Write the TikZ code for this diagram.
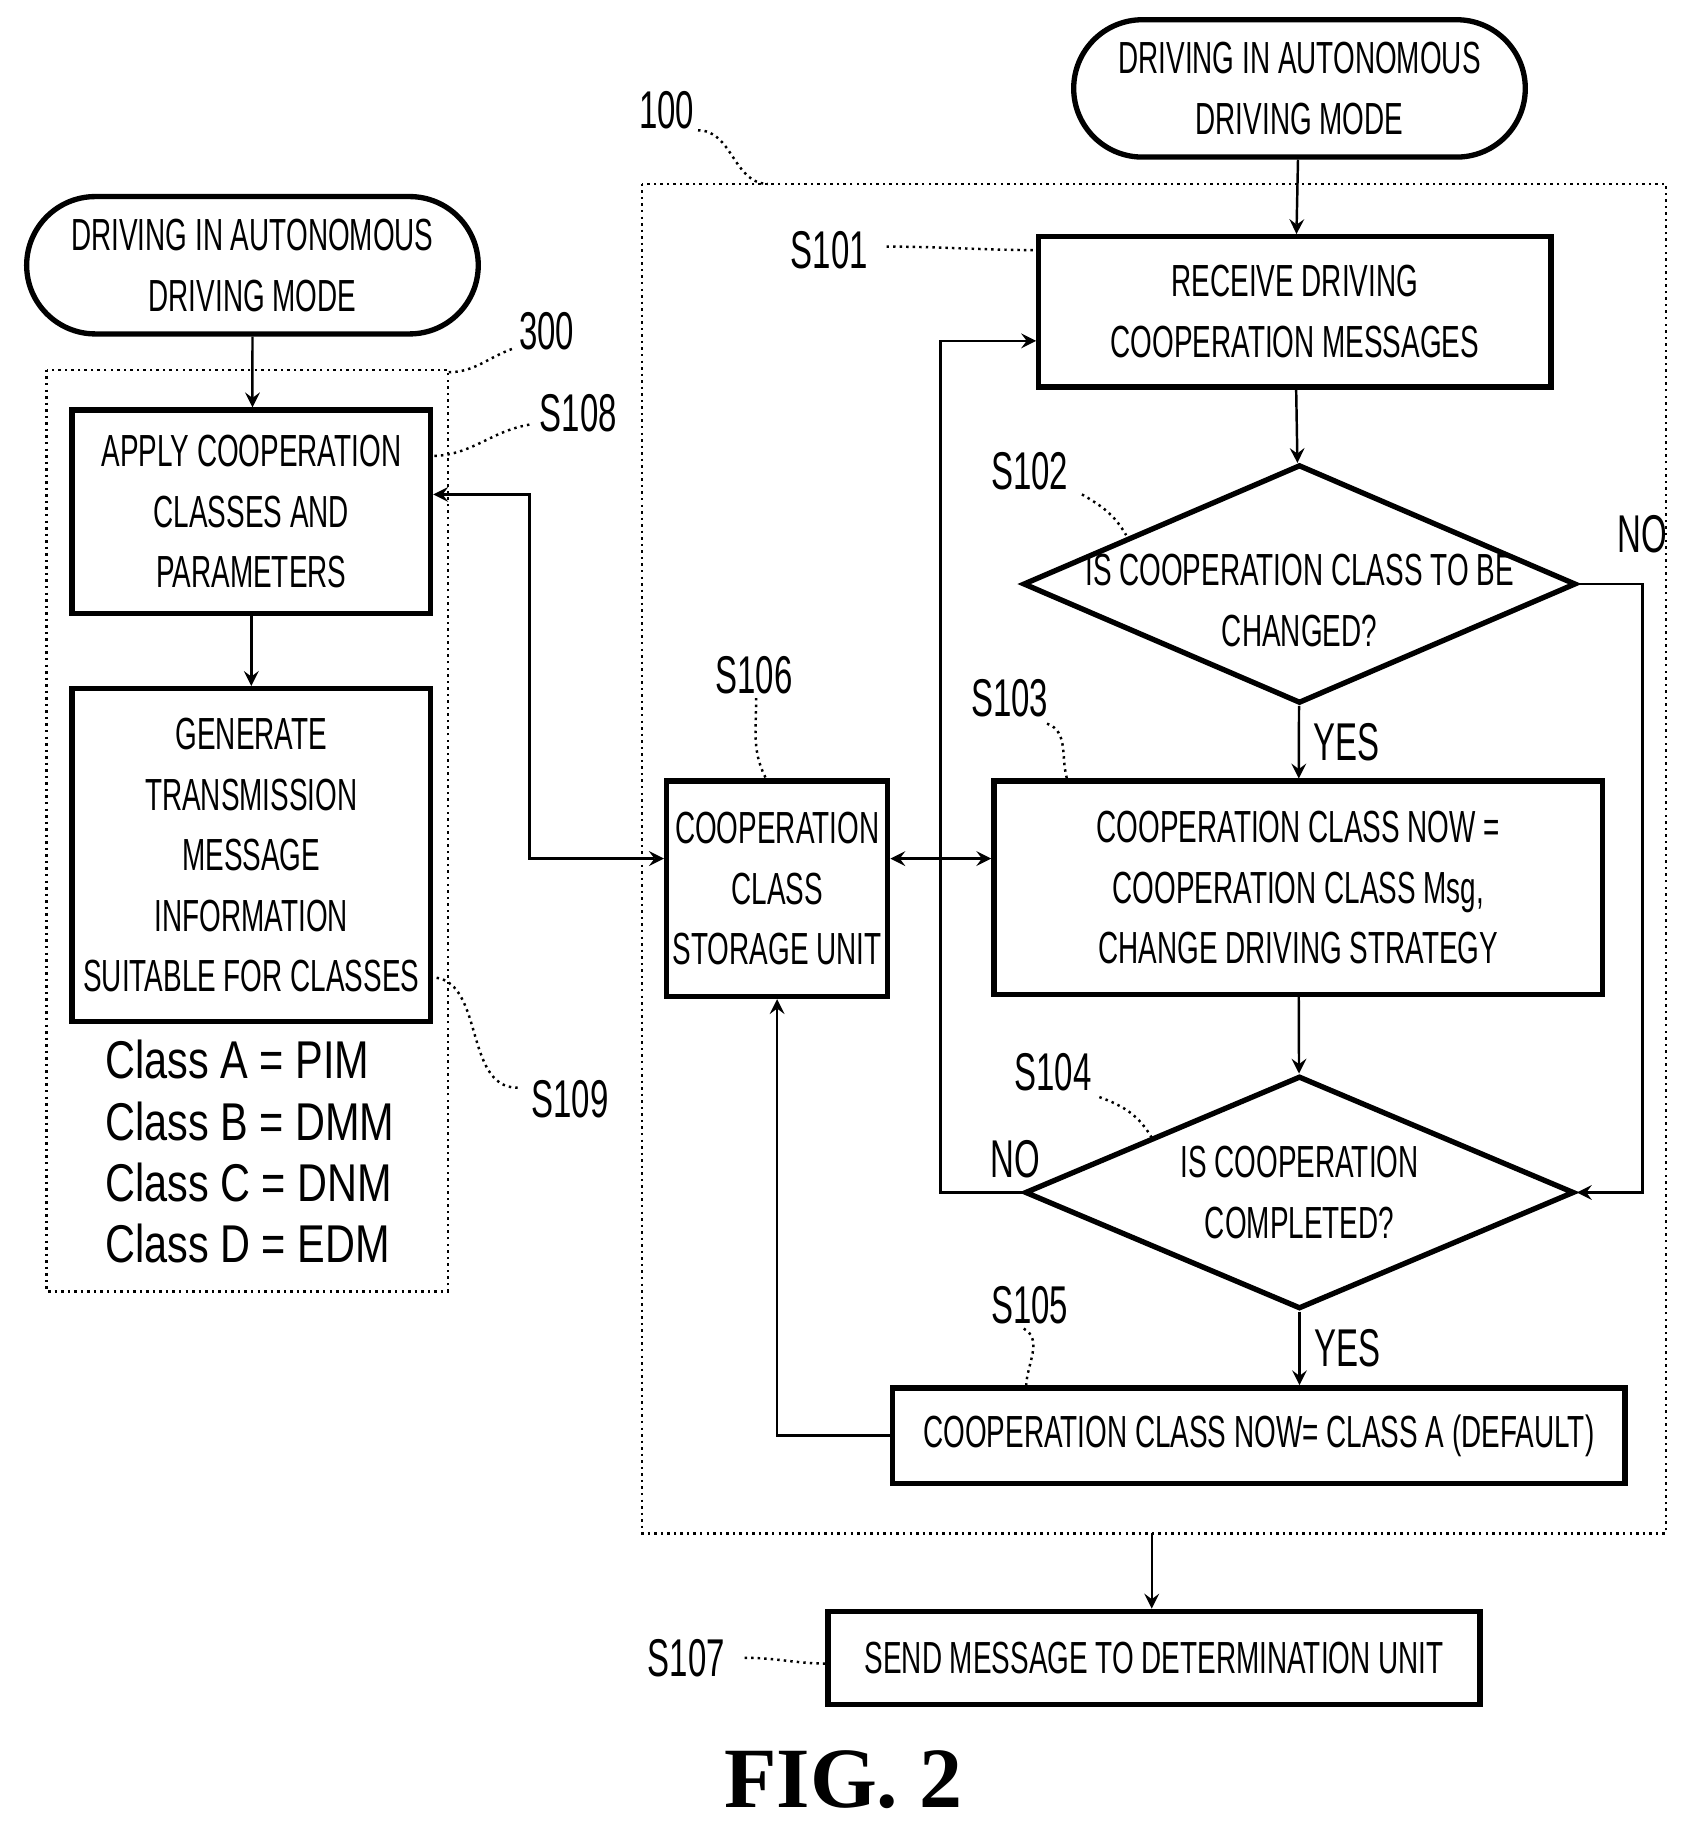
\documentclass[tikz,border=0pt]{standalone}
\usepackage{fontspec}
\setmainfont{Liberation Sans}[FakeStretch=0.62]
\newfontfamily\classfont{Liberation Sans}[FakeStretch=0.78]
\newfontfamily\capfont{Liberation Serif}
\usetikzlibrary{shapes,arrows,positioning,fit,backgrounds}
\begin{document}
\begin{tikzpicture}[x=0.01cm, y=-0.01cm,
    box/.style={rectangle, draw, line width=1.3pt, align=center, font=\fontsize{11}{14.8}\selectfont, inner sep=1pt},
    term/.style={rounded rectangle, draw, line width=1.3pt, align=center, font=\fontsize{11}{14.8}\selectfont, minimum width=3.95cm, minimum height=1.18cm, inner sep=1pt},
    decision/.style={diamond, draw, line width=1.3pt, aspect=2.35, inner sep=0pt},
    dtext/.style={align=center, font=\fontsize{11}{14.8}\selectfont},
    frame/.style={draw, densely dotted, line width=0.6pt},
    lbl/.style={font=\fontsize{13}{16}\selectfont},
    lead/.style={densely dotted, line width=0.6pt},
    arrow/.style={->, >=stealth, line width=0.6pt},
    darrow/.style={<->, >=stealth, line width=0.6pt}
]
\useasboundingbox (0,0) rectangle (1450,1567);
% frames
\draw[frame] (552,158) rectangle (1432,1318);
\draw[frame] (40,318) rectangle (385,1110);
\node[lbl] (l100) at (573,95) {100};
\node[lbl] (l300) at (470,285) {300};
\draw[lead] (600,112) to[out=0,in=180] (660,158);
\draw[lead] (440,300) to[out=200,in=0] (385,320);

% right flow
\node[term] (start) at (1117,76) {DRIVING IN AUTONOMOUS\\DRIVING MODE};
\node[box, minimum width=4.4cm, minimum height=1.29cm] (s101) at (1113,268) {RECEIVE DRIVING\\COOPERATION MESSAGES};
\node[decision, minimum width=4.75cm, minimum height=2.05cm] (s102) at (1117,502) {};
\node[dtext] (t102) at ([yshift=-4pt]s102) {IS COOPERATION CLASS TO BE\\CHANGED?};
\node[box, minimum width=5.23cm, minimum height=1.83cm] (s103) at (1116,763) {COOPERATION CLASS NOW =\\COOPERATION CLASS Msg,\\CHANGE DRIVING STRATEGY};
\node[decision, minimum width=4.72cm, minimum height=2.0cm] (s104) at (1117,1025) {};
\node[dtext] (t104) at (s104) {IS COOPERATION\\COMPLETED?};
\node[box, minimum width=6.29cm, minimum height=0.82cm] (s105) at (1082,1234) {COOPERATION CLASS NOW= CLASS A (DEFAULT)};
\node[box, minimum width=1.9cm, minimum height=1.85cm] (s106) at (668,764) {COOPERATION\\CLASS\\STORAGE UNIT};
\node[box, minimum width=5.6cm, minimum height=0.8cm] (s107) at (992,1425) {SEND MESSAGE TO DETERMINATION UNIT};
\coordinate (out100) at (990,1318);

% left flow
\node[term] (start2) at (217,228) {DRIVING IN AUTONOMOUS\\DRIVING MODE};
\node[box, minimum width=3.08cm, minimum height=1.75cm] (s108) at (216,440) {APPLY COOPERATION\\CLASSES AND\\PARAMETERS};
\node[box, minimum width=3.08cm, minimum height=2.86cm] (s109) at (216,735) {GENERATE\\TRANSMISSION\\MESSAGE\\INFORMATION\\SUITABLE FOR CLASSES};
\node[anchor=west, align=left, font=\classfont\fontsize{13}{15}\selectfont] (classes) at (78,990) {Class A = PIM\\Class B = DMM\\Class C = DNM\\Class D = EDM};

% step labels
\node[lbl] (ls101) at (713,215) {S101};
\node[lbl] (ls102) at (885,405) {S102};
\node[lbl] (ls103) at (868,600) {S103};
\node[lbl] (ls104) at (905,922) {S104};
\node[lbl] (ls105) at (885,1122) {S105};
\node[lbl] (ls106) at (648,580) {S106};
\node[lbl] (ls107) at (590,1425) {S107};
\node[lbl] (ls108) at (497,355) {S108};
\node[lbl] (ls109) at (490,945) {S109};
\draw[lead] (762,212) to[out=0,in=180] (893,215);
\draw[lead] (930,425) to[out=-30,in=120] (968,460);
\draw[lead] (900,622) to[out=-20,in=110] (918,672);
\draw[lead] (945,943) to[out=-20,in=120] (990,978);
\draw[lead] (880,1142) to[out=-30,in=90] (882,1193);
\draw[lead] (650,600) to[out=-90,in=120] (660,672);
\draw[lead] (640,1425) to[out=0,in=180] (712,1430);
\draw[lead] (455,365) to[out=190,in=0] (370,392);
\draw[lead] (445,935) to[out=180,in=0] (370,840);

% right connectors
\draw[arrow] (start) -- (s101);
\draw[arrow] (s101) -- (s102);
\draw[arrow] (s102) -- node[right, lbl] {YES} (s103);
\draw[arrow] (s103) -- (s104);
\draw[arrow] (s104) -- node[right, lbl] {YES} (s105.north -| s104.south);
\draw[arrow] (s102.east) -- ++(55,0) node[above, lbl, yshift=4pt] {NO} |- (s104.east);
\draw[arrow] (s104.west) node[above left, lbl, xshift=8pt] {NO} -- ++(-70,0) |- (s101.west |- 0,293);
\draw[arrow] (s105.west) -| (s106.south);
\draw[darrow] (s106.east |- 0,738) -- (s103.west |- 0,738);
\draw[arrow] (out100) -- (s107.north -| out100);

% left connectors
\draw[arrow] (start2) -- (s108.north -| start2);
\draw[arrow] (s108) -- (s109);
\draw[darrow] (s108.east |- 0,425) -- (455,425) |- (s106.west |- 0,738);

\node[font=\capfont\bfseries\fontsize{21}{24}\selectfont] (cap) at (725,1530) {FIG. 2};
\end{tikzpicture}
\end{document}
